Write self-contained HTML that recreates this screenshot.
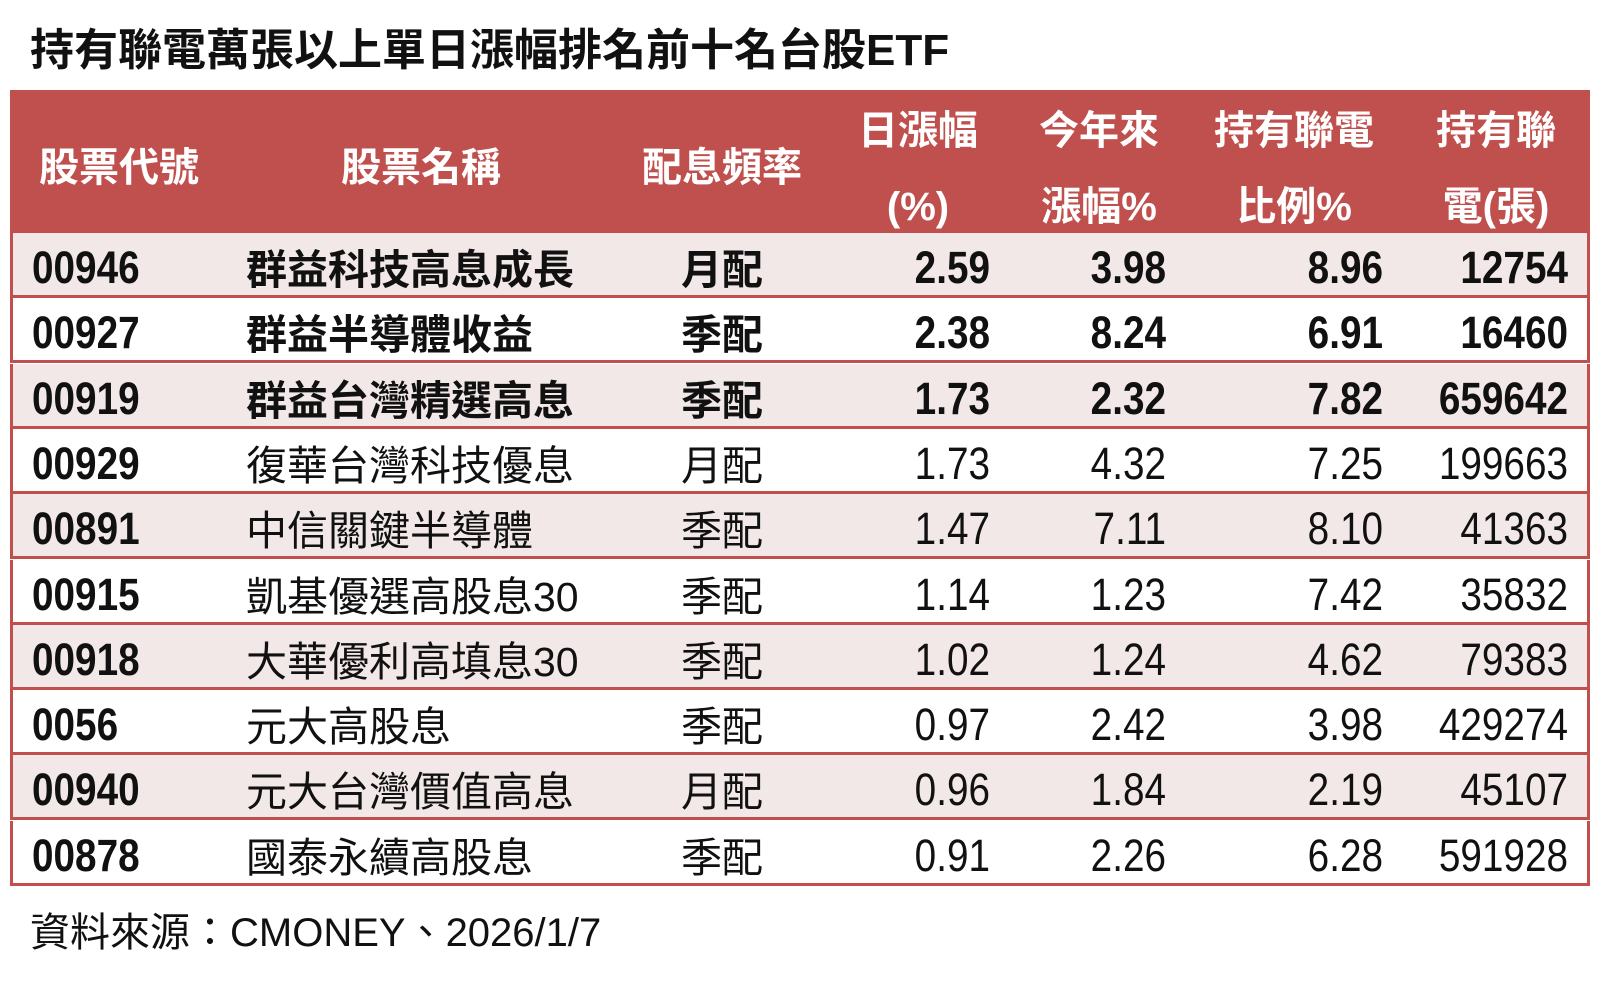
<!DOCTYPE html>
<html><head><meta charset="utf-8"><style>
body{margin:0;width:1600px;height:985px;background:#fff;position:relative;overflow:hidden;font-family:"Liberation Sans","Noto Sans CJK TC",sans-serif;}
.t{position:absolute;white-space:nowrap;}
.title{left:30px;top:14px;font-size:44px;font-weight:bold;color:#111;}
.hdr{position:absolute;left:10px;top:90px;width:1580px;height:143px;background:#c0504d;}
.h{position:absolute;color:#fff;font-weight:bold;font-size:40px;line-height:40px;transform:translateX(-50%);text-align:center;white-space:nowrap;}
.row{position:absolute;left:10px;width:1574px;height:62px;border-left:3px solid #c0504d;border-right:3px solid #c0504d;border-bottom:3px solid #c0504d;}
.c{position:absolute;top:13px;font-size:41px;line-height:48px;color:#111;white-space:nowrap;}
.n{font-size:45px;top:11px;}
.nl{transform:scaleX(0.86);transform-origin:left;}
.r{transform:translateX(-100%) scaleX(0.86);transform-origin:right;}
.m{transform:translateX(-50%);}
.b{font-weight:bold;}
.foot{left:30px;top:900px;font-size:40px;color:#111;}
</style></head><body>
<div class="t title">持有聯電萬張以上單日漲幅排名前十名台股ETF</div>
<div class="hdr">
<div class="h" style="left:109px;top:58px">股票代號</div>
<div class="h" style="left:411px;top:58px">股票名稱</div>
<div class="h" style="left:712px;top:58px">配息頻率</div>
<div class="h" style="left:908px;top:21px">日漲幅</div>
<div class="h" style="left:908px;top:97px">(%)</div>
<div class="h" style="left:1089px;top:21px">今年來</div>
<div class="h" style="left:1089px;top:97px">漲幅%</div>
<div class="h" style="left:1284px;top:21px">持有聯電</div>
<div class="h" style="left:1284px;top:97px">比例%</div>
<div class="h" style="left:1486px;top:21px">持有聯</div>
<div class="h" style="left:1486px;top:97px">電(張)</div>
</div>
<div id="rows"></div>
<div class="t foot">資料來源：CMONEY、2026/1/7</div>
<script>
var d=[["00946","群益科技高息成長","月配","2.59","3.98","8.96","12754",1],
["00927","群益半導體收益","季配","2.38","8.24","6.91","16460",1],
["00919","群益台灣精選高息","季配","1.73","2.32","7.82","659642",1],
["00929","復華台灣科技優息","月配","1.73","4.32","7.25","199663",0],
["00891","中信關鍵半導體","季配","1.47","7.11","8.10","41363",0],
["00915","凱基優選高股息30","季配","1.14","1.23","7.42","35832",0],
["00918","大華優利高填息30","季配","1.02","1.24","4.62","79383",0],
["0056","元大高股息","季配","0.97","2.42","3.98","429274",0],
["00940","元大台灣價值高息","月配","0.96","1.84","2.19","45107",0],
["00878","國泰永續高股息","季配","0.91","2.26","6.28","591928",0]];
var h="";
d.forEach(function(r,i){
var top=233+i*65.3;var bg=i%2==0?"#f2e8e8":"#fff";var b=r[7]?" b":"";
h+='<div class="row" style="top:'+top+'px;background:'+bg+'">'+
'<div class="c n nl b" style="left:19px">'+r[0]+'</div>'+
'<div class="c'+b+'" style="left:233px">'+r[1]+'</div>'+
'<div class="c m'+b+'" style="left:709px">'+r[2]+'</div>'+
'<div class="c n r'+b+'" style="left:977px">'+r[3]+'</div>'+
'<div class="c n r'+b+'" style="left:1153px">'+r[4]+'</div>'+
'<div class="c n r'+b+'" style="left:1370px">'+r[5]+'</div>'+
'<div class="c n r'+b+'" style="left:1555px">'+r[6]+'</div></div>';
});
document.getElementById("rows").innerHTML=h;
</script>
</body></html>
